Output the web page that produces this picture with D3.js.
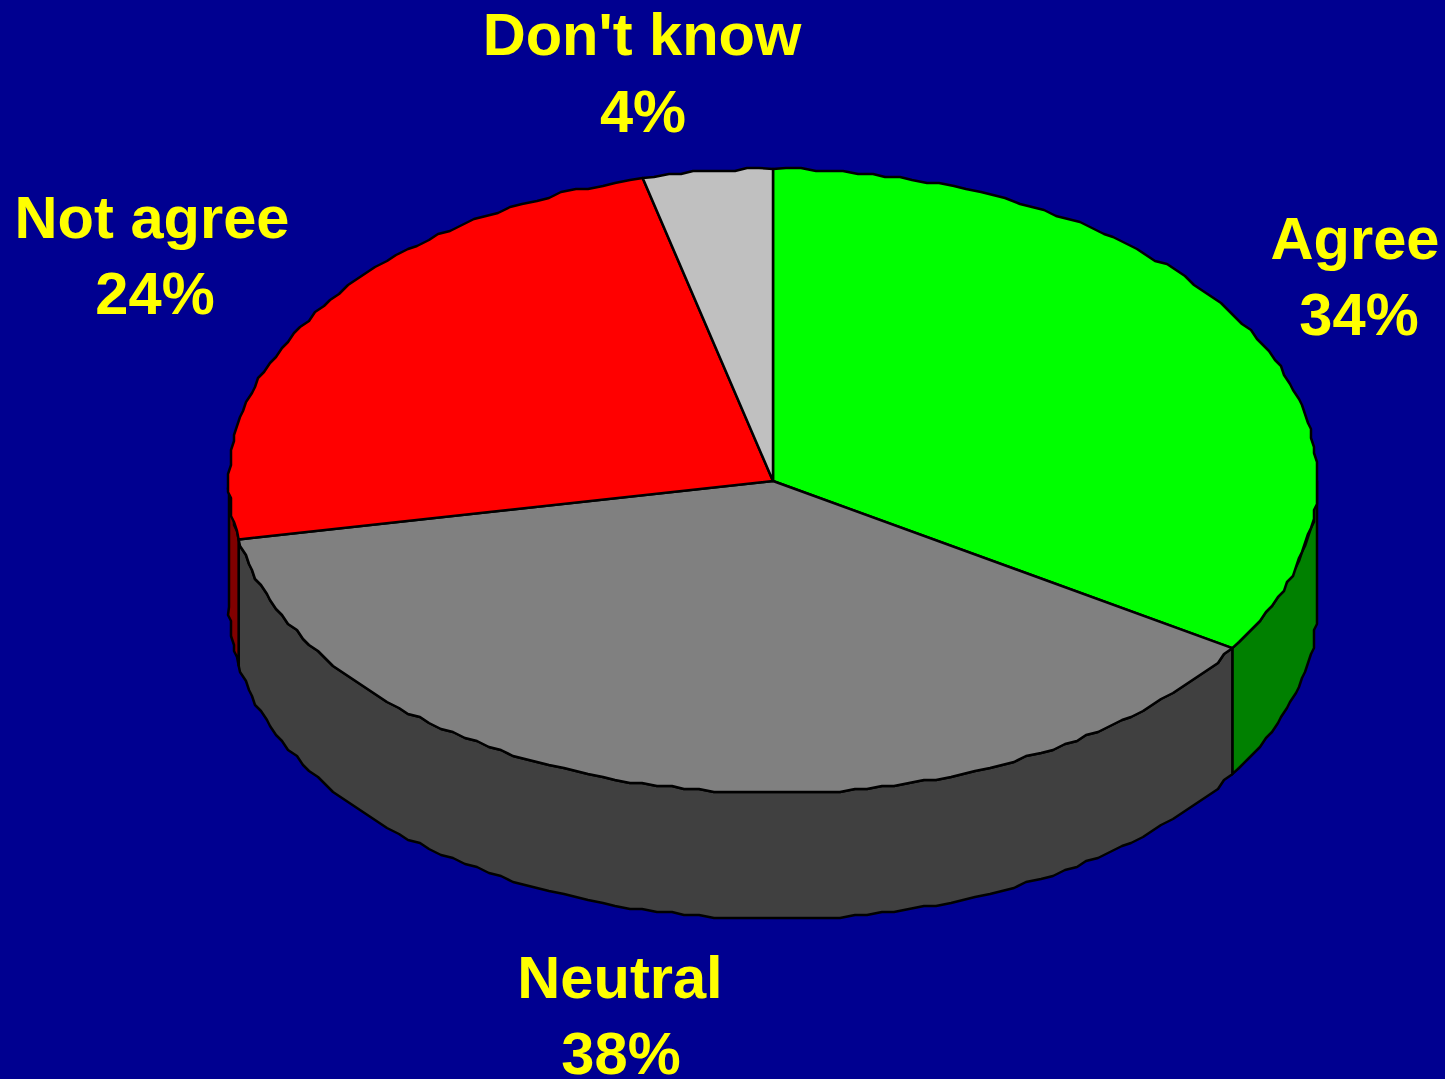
<!DOCTYPE html>
<html><head><meta charset="utf-8">
<script src="https://cdn.jsdelivr.net/npm/d3@7"></script>
<style>html,body{margin:0;padding:0;background:#000090;overflow:hidden}svg{display:block}</style>
</head><body><svg id="c" width="1445" height="1079"></svg>
<script>
const categories = ["Agree","Neutral","Not agree","Don't know"];
const values = [34,38,24.15,3.85];
const topColors = ["#00ff00","#808080","#ff0000","#c0c0c0"];
const sideColors = ["#008000","#404040","#800000","#606060"];
const labelX = [1355,620,152,642];
const labelY = [259,998,238,55];
const pctX = [1359,621,155,643];
const pctY = [335,1074,314,132];

const W=1445,H=1079,cx=773,cy=481,rx=544,ry=312,depth=126,grid=3;
const svg=d3.select("#c");
svg.append("rect").attr("width",W).attr("height",H).attr("fill","#000090");
const sx=d3.scaleLinear().domain([-1,1]).range([cx-rx,cx+rx]);
const sy=d3.scaleLinear().domain([-1,1]).range([cy+ry,cy-ry]);
const pie=d3.pie().sort(null).value(d=>d);
const arcs=pie(values);
const line=d3.line();
const snap=v=>Math.round(v/grid)*grid;
function pts(a0,a1,dy=0){
  const n=Math.max(2,Math.ceil(Math.abs(a1-a0)/(Math.PI/120)));
  return d3.range(n+1).map(i=>{
    const a=a0+(a1-a0)*i/n;
    const x=sx(Math.sin(a)),y=sy(Math.cos(a));
    return (i===0||i===n)?[x,y+dy]:[snap(x),snap(y)+dy];
  });
}
const lo=Math.PI/2,hi=Math.PI*1.5;
arcs.forEach((d,i)=>{
  const a0=Math.max(d.startAngle,lo),a1=Math.min(d.endAngle,hi);
  if(a1<=a0) return;
  const p=pts(a0,a1,0).concat(pts(a1,a0,depth));
  svg.append("path").attr("d",line(p)+"Z").attr("fill",sideColors[i]).attr("stroke","#000").attr("stroke-width",2.5).attr("stroke-linejoin","round");
});
arcs.forEach((d,i)=>{
  const p=[[cx,cy]].concat(pts(d.startAngle,d.endAngle,0));
  svg.append("path").attr("d",line(p)+"Z").attr("fill",topColors[i]).attr("stroke","#000").attr("stroke-width",2.5).attr("stroke-linejoin","round");
});
categories.forEach((c,i)=>{
  const t=svg.append("g").attr("font-family","'Liberation Sans',Arial,sans-serif").attr("font-weight","bold").attr("font-size",59.6).attr("fill","#ffff00").attr("text-anchor","middle");
  t.append("text").attr("x",labelX[i]).attr("y",labelY[i]).text(c);
  t.append("text").attr("x",pctX[i]).attr("y",pctY[i]).text(d3.format(".0f")(values[i])+"%");
});
</script></body></html>
